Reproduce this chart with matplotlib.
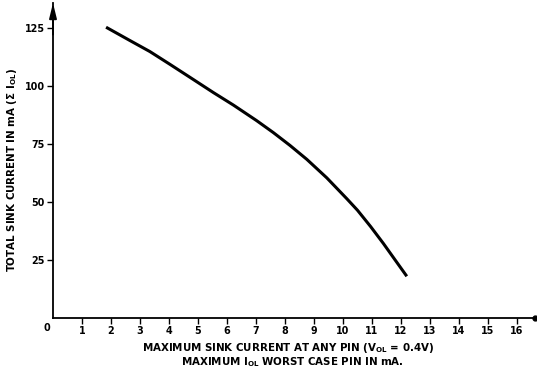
import matplotlib
matplotlib.use("Agg")
import matplotlib.pyplot as plt

# Total sink current vs. maximum sink current at any pin
pin_current = [1.83, 2.66, 3.34, 4.03, 4.72, 5.53, 6.22, 7.02, 7.6, 8.17,
               8.75, 9.44, 10.13, 10.5, 10.95, 11.39, 11.8, 12.2]
total_current = [125.5, 119.7, 115.0, 109.5, 103.9, 97.3, 91.9, 85.2, 80.0, 74.5,
                 68.5, 60.5, 51.5, 46.5, 39.5, 32.2, 25.0, 18.0]

x_ticks = list(range(1, 17))
y_ticks = [25, 50, 75, 100, 125]

plt.rcParams['font.family'] = ['DejaVu Sans']
plt.rcParams['mathtext.fontset'] = 'custom'
plt.rcParams['mathtext.rm'] = 'DejaVu Sans:bold'
plt.rcParams['mathtext.it'] = 'DejaVu Sans:bold'
plt.rcParams['mathtext.bf'] = 'DejaVu Sans:bold'
TICK_FS = 6.9
LABEL_FS = 7.4
FW = 'bold'

fig = plt.figure(figsize=(5.37, 3.72), dpi=100)
W, H = 537, 372
x0, x1 = 53, 535
y0, y1 = 318, 3
ax = fig.add_axes([x0 / W, (H - y0) / H, (x1 - x0) / W, (y0 - y1) / H])

ax.plot(pin_current, total_current, color='black', lw=2.2,
        solid_capstyle='butt', solid_joinstyle='round')

ax.set_xlim(0, (x1 - x0) / 29.0)
ax.set_ylim(0, (y0 - y1) / 2.317)

for s in ('top', 'right'):
    ax.spines[s].set_visible(False)
for s in ('left', 'bottom'):
    ax.spines[s].set_linewidth(1.3)

ax.set_xticks(x_ticks)
ax.set_xticklabels([str(v) for v in x_ticks], fontsize=TICK_FS, fontweight=FW)
ax.set_yticks(y_ticks)
ax.set_yticklabels([str(v) for v in y_ticks], fontsize=TICK_FS, fontweight=FW)
ax.tick_params(axis='both', direction='out', length=4, width=1.0, pad=2)

# origin label in the corner
ax.annotate('0', xy=(0, 0), xycoords='axes fraction', xytext=(-4.5, -7),
            textcoords='offset points', fontsize=TICK_FS, fontweight=FW,
            ha='center', va='center')

# arrow head on the vertical axis, end mark on the horizontal axis
ax.annotate('', xy=(0, 1), xycoords='axes fraction', xytext=(0, 0.9),
            arrowprops=dict(arrowstyle='-|>,head_length=0.9,head_width=0.22',
                            color='black', lw=1.3, shrinkA=0, shrinkB=0))
ax.plot([1], [0], marker='o', ms=3.5, color='black', transform=ax.transAxes,
        clip_on=False)

ax.set_ylabel(r'TOTAL SINK CURRENT IN mA ($\Sigma$ I$_{\mathrm{OL}}$)',
              fontsize=LABEL_FS, fontweight=FW)
ax.yaxis.set_label_coords(-(53 - 19) / (x1 - x0), 0.47)

fig.text(288 / W, 1 - 348 / H,
         r'MAXIMUM SINK CURRENT AT ANY PIN (V$_{\mathrm{OL}}$ = 0.4V)',
         fontsize=LABEL_FS, fontweight=FW, ha='center', va='center')
fig.text(292 / W, 1 - 362 / H,
         r'MAXIMUM I$_{\mathrm{OL}}$ WORST CASE PIN IN mA.',
         fontsize=LABEL_FS, fontweight=FW, ha='center', va='center')

fig.savefig('out.png', dpi=100)
